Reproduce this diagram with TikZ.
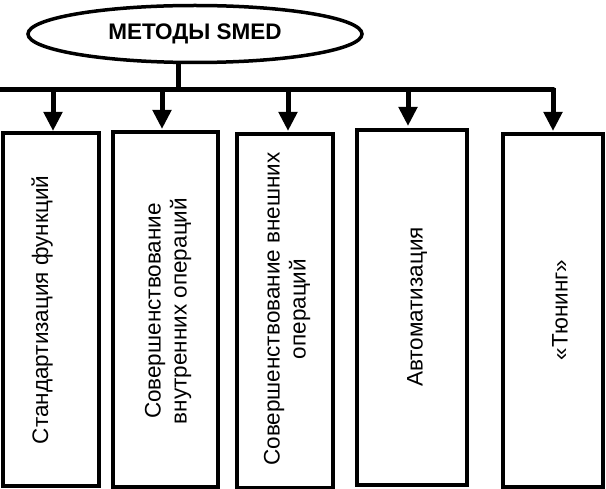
\documentclass[tikz,border=0pt]{standalone}
\usepackage{fontspec}
\setmainfont{Liberation Sans}
\usetikzlibrary{shapes.geometric,arrows.meta}
\begin{document}
\begin{tikzpicture}[x=1pt,y=-1pt,
  boxst/.style={draw=black,line width=4pt,rectangle,inner sep=0pt},
  lbl/.style={rotate=90,align=center,font=\fontsize{22.5}{26}\selectfont,inner sep=0pt},
  conn/.style={line width=5pt},
  arr/.style={line width=5pt,-{Triangle[length=19pt,width=18pt]}}]
\useasboundingbox (0,0) rectangle (606,489);
% title
\node[draw=black,line width=3.5pt,ellipse,minimum width=334pt,minimum height=57pt,inner sep=0pt,
  font=\fontsize{22.5}{26}\selectfont\bfseries] (t) at (195,34) {МЕТОДЫ SMED};
% boxes
\node[boxst,minimum width=96pt,minimum height=353pt] (b1) at (51,309.5) {};
\node[boxst,minimum width=105pt,minimum height=355pt] (b2) at (165.5,309.5) {};
\node[boxst,minimum width=96pt,minimum height=354pt] (b3) at (285,311) {};
\node[boxst,minimum width=110pt,minimum height=355pt] (b4) at (412,307.5) {};
\node[boxst,minimum width=100pt,minimum height=353pt] (b5) at (553,310.5) {};
% labels
\node[lbl] (l1) at (42,310) {Стандартизация функций};
\node[lbl] (l2) at (168,311) {Совершенствование\\внутренних операций};
\node[lbl] (l3) at (287,309) {Совершенствование внешних\\операций};
\node[lbl] (l4) at (417,307) {Автоматизация};
\node[lbl] (l5) at (560,310) {«Тюнинг»};
% connectors
\coordinate (s) at (178,90);
\coordinate (w) at (0,90);
\draw[conn] (s |- t.south) -- (s);
\draw[conn,line join=round] (w) -- (553,90) -- ++(0,1);
\draw[arr] (53,88) -- (53,131);
\draw[arr] (162,88) -- (162,129);
\draw[arr] (288,88) -- (288,131);
\draw[arr] (408,88) -- (408,126);
\draw[arr] (553,88) -- (553,131);
\end{tikzpicture}
\end{document}
